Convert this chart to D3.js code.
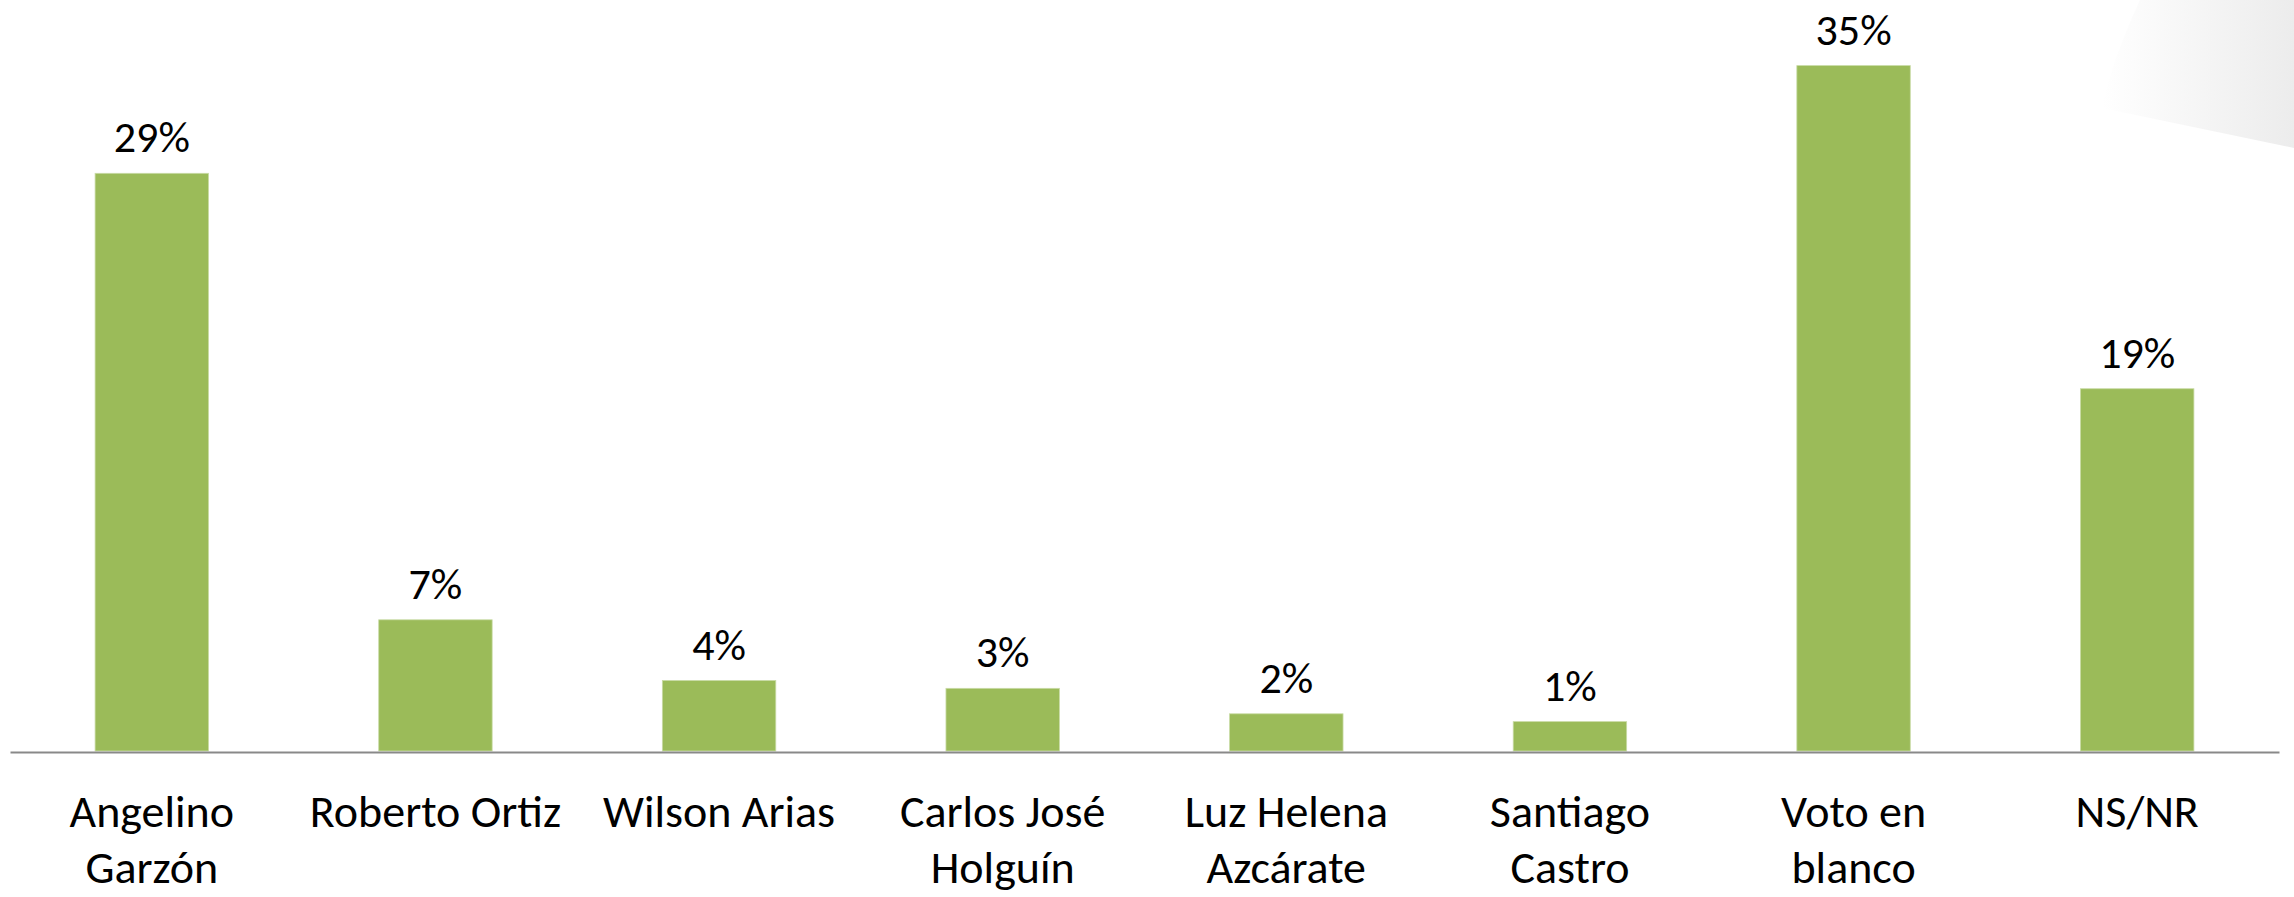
<!DOCTYPE html>
<html>
<head>
<meta charset="utf-8">
<script src="https://cdn.jsdelivr.net/npm/d3@7"></script>
<style>
  html, body { margin: 0; padding: 0; background: #ffffff; }
  svg { display: block; }
  text { font-family: Carlito, "Liberation Sans Narrow", Lato, "Open Sans", sans-serif; fill: #000; }
</style>
</head>
<body>
<svg id="chart" width="2294" height="897"></svg>
<script>
// ---- data ----
const categories = [
  ["Angelino", "Garzón"],
  ["Roberto Ortiz"],
  ["Wilson Arias"],
  ["Carlos José", "Holguín"],
  ["Luz Helena", "Azcárate"],
  ["Santiago", "Castro"],
  ["Voto en", "blanco"],
  ["NS/NR"]
];
const values = [29.5, 6.7, 3.6, 3.2, 1.9, 1.5, 35.0, 18.5];
const valueLabels = ["29%", "7%", "4%", "3%", "2%", "1%", "35%", "19%"];
const yMax = 38.35;

// ---- layout ----
const W = 2294, H = 897;
const baseline = 751;
const svg = d3.select("#chart");

// decorative background shape (top right)
const defs = svg.append("defs");
const grad = defs.append("linearGradient").attr("id", "deco")
  .attr("x1", "0%").attr("y1", "0%").attr("x2", "100%").attr("y2", "0%");
grad.append("stop").attr("offset", "0%").attr("stop-color", "#ffffff");
grad.append("stop").attr("offset", "100%").attr("stop-color", "#ececec");
svg.append("path")
  .attr("d", "M2140,0 Q2112,60 2102,108 L2294,148 L2294,0 Z")
  .attr("fill", "url(#deco)");

const keys = categories.map(c => c.join(" "));
const x = d3.scaleBand().domain(keys).range([10, 2279])
  .paddingInner(0.6).paddingOuter(0.3);
const y = d3.scaleLinear().domain([0, yMax]).range([baseline, 0]);

// bars
svg.append("g").selectAll("rect").data(values).join("rect")
  .attr("x", (d, i) => x(keys[i]))
  .attr("width", x.bandwidth())
  .attr("y", d => y(d))
  .attr("height", d => baseline - y(d))
  .attr("fill", "#9BBB59")
  .attr("stroke", "#c9dba6")
  .attr("stroke-width", 0.8);

// axis
const axis = d3.axisBottom(x).tickSize(0).tickFormat("");
const gAxis = svg.append("g").attr("transform", `translate(0,${baseline + 1})`).call(axis);
gAxis.select(".domain").attr("stroke", "#898989").attr("stroke-width", 2);

// category labels
const lab = svg.append("g").selectAll("text").data(categories).join("text")
  .attr("text-anchor", "middle")
  .attr("font-size", 46)
  .attr("x", (d, i) => x(keys[i]) + x.bandwidth() / 2)
  .attr("y", 827);
lab.each(function(d) {
  const t = d3.select(this);
  d.forEach((line, j) => {
    t.append("tspan").attr("x", t.attr("x")).attr("dy", j === 0 ? 0 : 56).text(line);
  });
});

// value labels
svg.append("g").selectAll("text").data(values).join("text")
  .attr("text-anchor", "middle")
  .attr("font-size", 44)
  .attr("x", (d, i) => x(keys[i]) + x.bandwidth() / 2)
  .attr("y", d => y(d) - 21)
  .text((d, i) => valueLabels[i]);
</script>
</body>
</html>
